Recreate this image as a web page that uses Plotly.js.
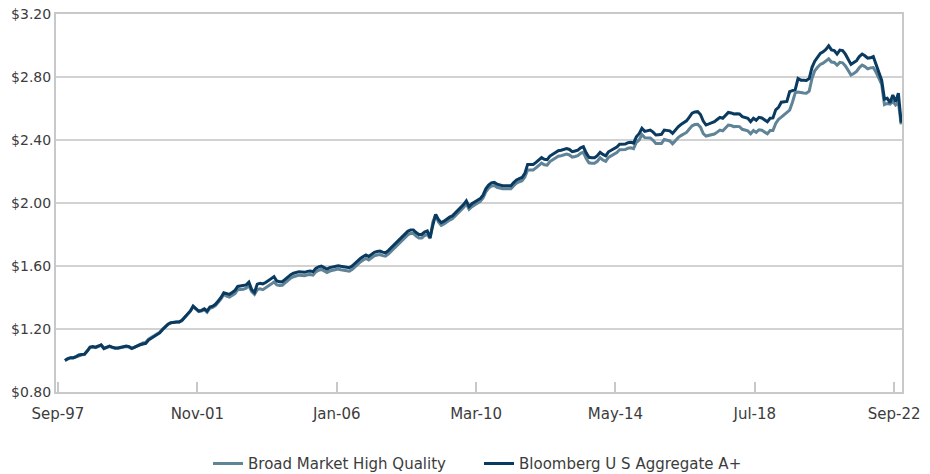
<!DOCTYPE html>
<html>
<head>
<meta charset="utf-8">
<script src="https://cdn.plot.ly/plotly-3.0.1.min.js"></script>
<style>
html,body{margin:0;padding:0;background:#fff;}
#chart{width:930px;height:474px;}
</style>
</head>
<body>
<div id="chart"></div>
<script>
// Monthly growth of $1, Sep-97 .. Sep-22
const seriesNames = ["Broad Market High Quality", "Bloomberg U S Aggregate A+"];
const tickLabels = ["Sep-97", "Nov-01", "Jan-06", "Mar-10", "May-14", "Jul-18", "Sep-22"];

const broadMarketHQ = [
1.000,1.010,1.016,1.016,1.023,1.033,1.036,1.038,1.058,1.082,1.085,1.082,
1.089,1.097,1.075,1.082,1.089,1.082,1.077,1.077,1.080,1.083,1.089,1.085,
1.075,1.083,1.095,1.103,1.111,1.115,1.136,1.146,1.158,1.168,1.180,1.199,
1.217,1.230,1.239,1.243,1.244,1.244,1.254,1.274,1.294,1.313,1.342,1.327,
1.311,1.314,1.323,1.306,1.332,1.337,1.349,1.370,1.391,1.420,1.408,1.402,
1.413,1.425,1.450,1.452,1.452,1.459,1.475,1.438,1.420,1.450,1.455,1.450,
1.460,1.470,1.485,1.498,1.480,1.477,1.478,1.493,1.510,1.523,1.532,1.538,
1.542,1.540,1.538,1.544,1.546,1.542,1.563,1.573,1.578,1.568,1.559,1.568,
1.573,1.578,1.580,1.576,1.573,1.570,1.567,1.578,1.595,1.613,1.626,1.638,
1.648,1.638,1.653,1.665,1.670,1.673,1.666,1.662,1.676,1.693,1.711,1.728,
1.743,1.763,1.778,1.798,1.807,1.807,1.790,1.778,1.778,1.793,1.800,1.775,
1.880,1.925,1.880,1.858,1.867,1.882,1.892,1.900,1.917,1.932,1.950,1.972,
1.995,1.960,1.977,1.990,2.000,2.010,2.032,2.070,2.094,2.108,2.111,2.100,
2.095,2.090,2.090,2.088,2.090,2.110,2.126,2.135,2.142,2.165,2.210,2.210,
2.210,2.223,2.240,2.253,2.243,2.240,2.263,2.275,2.287,2.297,2.300,2.303,
2.310,2.305,2.291,2.295,2.301,2.315,2.322,2.283,2.255,2.253,2.253,2.265,
2.287,2.273,2.265,2.290,2.300,2.306,2.320,2.338,2.338,2.339,2.348,2.350,
2.345,2.385,2.400,2.434,2.415,2.415,2.413,2.398,2.378,2.378,2.378,2.403,
2.400,2.394,2.376,2.398,2.415,2.428,2.438,2.448,2.470,2.490,2.498,2.500,
2.482,2.440,2.425,2.428,2.432,2.438,2.450,2.463,2.458,2.475,2.495,2.492,
2.485,2.486,2.485,2.468,2.462,2.458,2.440,2.460,2.448,2.465,2.462,2.448,
2.440,2.460,2.460,2.505,2.531,2.545,2.560,2.575,2.590,2.640,2.700,2.705,
2.700,2.698,2.697,2.710,2.790,2.840,2.862,2.880,2.888,2.900,2.915,2.895,
2.892,2.875,2.893,2.890,2.870,2.842,2.813,2.822,2.835,2.860,2.876,2.866,
2.852,2.858,2.860,2.830,2.790,2.755,2.625,2.632,2.628,2.645,2.622,2.640,
2.500
];

const bbgAggAPlus = [
1.000,1.012,1.018,1.018,1.025,1.035,1.038,1.040,1.060,1.085,1.088,1.085,
1.092,1.100,1.077,1.085,1.092,1.085,1.080,1.080,1.083,1.086,1.092,1.088,
1.077,1.085,1.095,1.100,1.105,1.109,1.130,1.140,1.152,1.162,1.175,1.195,
1.215,1.230,1.240,1.244,1.245,1.245,1.255,1.275,1.295,1.315,1.345,1.330,
1.314,1.318,1.328,1.314,1.340,1.345,1.357,1.378,1.400,1.430,1.425,1.420,
1.432,1.445,1.470,1.473,1.473,1.480,1.497,1.450,1.432,1.485,1.490,1.486,
1.495,1.505,1.520,1.532,1.505,1.500,1.500,1.515,1.532,1.545,1.554,1.560,
1.564,1.562,1.560,1.566,1.568,1.564,1.585,1.595,1.600,1.590,1.581,1.590,
1.595,1.600,1.602,1.598,1.595,1.592,1.589,1.600,1.617,1.635,1.648,1.660,
1.670,1.660,1.675,1.687,1.692,1.695,1.688,1.684,1.698,1.715,1.733,1.750,
1.765,1.785,1.800,1.820,1.829,1.829,1.812,1.800,1.800,1.815,1.822,1.780,
1.860,1.928,1.895,1.875,1.885,1.900,1.910,1.918,1.935,1.950,1.968,1.990,
2.013,1.977,1.995,2.008,2.018,2.028,2.050,2.090,2.114,2.128,2.131,2.120,
2.115,2.110,2.110,2.108,2.110,2.130,2.146,2.155,2.162,2.188,2.245,2.245,
2.245,2.258,2.275,2.288,2.278,2.275,2.298,2.310,2.322,2.332,2.335,2.338,
2.345,2.340,2.326,2.330,2.336,2.350,2.357,2.318,2.290,2.288,2.288,2.300,
2.322,2.308,2.300,2.325,2.335,2.341,2.355,2.373,2.373,2.374,2.383,2.385,
2.380,2.420,2.440,2.474,2.455,2.458,2.463,2.450,2.432,2.434,2.436,2.463,
2.462,2.458,2.442,2.465,2.484,2.498,2.510,2.522,2.545,2.570,2.578,2.580,
2.562,2.520,2.495,2.502,2.508,2.516,2.530,2.544,2.538,2.555,2.575,2.572,
2.565,2.566,2.565,2.548,2.542,2.538,2.516,2.538,2.525,2.544,2.540,2.525,
2.516,2.538,2.540,2.592,2.607,2.640,2.643,2.645,2.707,2.712,2.720,2.790,
2.780,2.780,2.778,2.790,2.860,2.900,2.925,2.950,2.960,2.975,2.998,2.972,
2.968,2.946,2.971,2.968,2.945,2.915,2.880,2.892,2.904,2.930,2.946,2.935,
2.920,2.922,2.930,2.880,2.835,2.780,2.660,2.665,2.637,2.686,2.643,2.697,
2.510
];

const monthIndex = bbgAggAPlus.map((_, i) => i);
const tickPositions = tickLabels.map((_, k) => -2.5 + 50 * k);

const font = "DejaVu Sans, sans-serif";
const textColor = "#3c3c3c";

const traces = [
  {
    x: monthIndex, y: broadMarketHQ, name: seriesNames[0],
    type: "scatter", mode: "lines",
    line: {color: "#5f8397", width: 3}
  },
  {
    x: monthIndex, y: bbgAggAPlus, name: seriesNames[1],
    type: "scatter", mode: "lines",
    line: {color: "#0a3a60", width: 3}
  }
];

const layout = {
  width: 930, height: 474,
  margin: {l: 56, r: 28, t: 14, b: 82, autoexpand: false},
  paper_bgcolor: "#ffffff", plot_bgcolor: "#ffffff",
  font: {family: font, size: 14, color: textColor},
  showlegend: true,
  legend: {
    orientation: "h", x: 0.5, xanchor: "center", y: -0.19, yanchor: "middle",
    font: {family: font, size: 15, color: textColor},
    entrywidth: 226, entrywidthmode: "pixels", tracegroupgap: 0
  },
  xaxis: {
    range: [-3.2, 300.3],
    tickmode: "array", tickvals: tickPositions, ticktext: tickLabels,
    ticks: "inside", ticklen: 10, tickwidth: 2, tickcolor: "#c8c8c8",
    ticklabelstandoff: 7,
    showgrid: false, zeroline: false,
    showline: true, linecolor: "#c8c8c8", linewidth: 2, mirror: true,
    tickfont: {family: font, size: 15, color: textColor}
  },
  yaxis: {
    range: [0.8, 3.2], dtick: 0.4, tick0: 0.8,
    tickprefix: "$", tickformat: ".2f",
    ticks: "", showgrid: true, gridcolor: "#d2d2d2", gridwidth: 2,
    zeroline: false,
    showline: true, linecolor: "#c8c8c8", linewidth: 2, mirror: true,
    tickfont: {family: font, size: 14, color: textColor}
  }
};

Plotly.newPlot("chart", traces, layout, {displayModeBar: false, staticPlot: true});
</script>
</body>
</html>
